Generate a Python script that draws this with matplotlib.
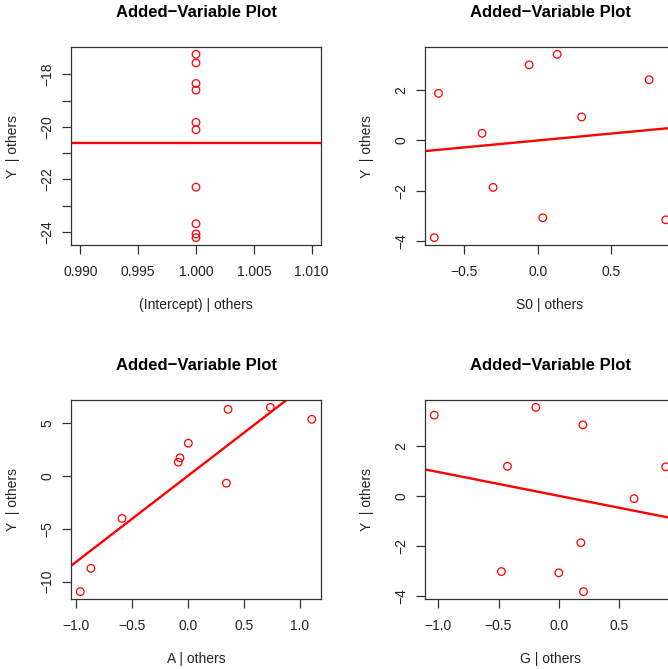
import numpy as np
import matplotlib
matplotlib.use('Agg')
import matplotlib.pyplot as plt

plt.rcParams['font.family'] = ['Liberation Sans', 'DejaVu Sans']

title = 'Added\u2212Variable Plot'
ylab = 'Y  | others'

# panel 1: (Intercept) | others
int_x = [1.0] * 10
int_y = [-17.24, -17.57, -18.35, -18.60, -19.83, -20.11, -22.30, -23.69, -24.08, -24.22]

# panel 2: S0 | others
s0_x = [-0.675, -0.059, 0.132, 0.757, -0.379, 0.298, -0.304, 0.034, -0.704, 0.870]
s0_y = [1.87, 3.00, 3.42, 2.41, 0.28, 0.93, -1.87, -3.08, -3.87, -3.16]

# panel 3: A | others
a_x = [-0.963, -0.868, -0.590, -0.087, -0.072, 0.003, 0.343, 0.358, 0.736, 1.106]
a_y = [-10.95, -8.75, -4.03, 1.29, 1.70, 3.08, -0.70, 6.29, 6.47, 5.34]

# panel 4: G | others
g_x = [-1.033, -0.191, 0.200, -0.426, 0.887, 0.624, 0.183, -0.476, 0.000, 0.205]
g_y = [3.22, 3.53, 2.83, 1.18, 1.16, -0.11, -1.87, -3.02, -3.07, -3.82]

# (xlabel, x, y, xticks, x decimals, yticks, labelled yticks)
panels = [
    ('(Intercept) | others', int_x, int_y, [0.990, 0.995, 1.000, 1.005, 1.010], 3,
     list(range(-24, -17)), [-24, -22, -20, -18]),
    ('S0 | others', s0_x, s0_y, [-0.5, 0.0, 0.5], 1, [-4, -2, 0, 2], [-4, -2, 0, 2]),
    ('A | others', a_x, a_y, [-1.0, -0.5, 0.0, 0.5, 1.0], 1, [-10, -5, 0, 5], [-10, -5, 0, 5]),
    ('G | others', g_x, g_y, [-1.0, -0.5, 0.0, 0.5], 1, [-4, -2, 0, 2], [-4, -2, 0, 2]),
]

W, H = 668, 669
fig = plt.figure(figsize=(W / 100, H / 100), dpi=100)

# axes boxes in pixels: left, top, width, height
boxes = [(71, 47, 250, 198), (425, 47, 250, 198),
         (71, 400, 250, 199), (425, 400, 250, 199)]


def rlim(v):
    lo, hi = min(v), max(v)
    if hi == lo:
        lo, hi = lo - 0.01 * abs(lo), hi + 0.01 * abs(hi)
    d = (hi - lo) * 0.04
    return lo - d, hi + d


def fmt(v, nd):
    return ('%.*f' % (nd, v)).replace('-', '\u2212')


for (xlabel, x, y, xt, nd, yt, ylabs), (l, t, w, h) in zip(panels, boxes):
    ax = fig.add_axes([l / W, 1 - (t + h) / H, w / W, h / H])
    x = np.array(x)
    y = np.array(y)
    ax.set_xlim(rlim(x))
    ax.set_ylim(rlim(y))
    ax.scatter(x, y, s=30, facecolors='none', edgecolors='red', linewidths=0.9, zorder=3)

    # least-squares line (horizontal at the mean when x is constant)
    if np.ptp(x) == 0:
        ax.axhline(y.mean(), color='red', lw=1.7)
    else:
        b, a = np.polyfit(x, y, 1)
        ax.axline((0, a), slope=b, color='red', lw=1.7)

    ax.set_xticks(xt)
    ax.set_xticklabels([fmt(v, nd) for v in xt])
    ax.set_yticks(yt)
    ax.set_yticklabels([fmt(v, 0) if v in ylabs else '' for v in yt], rotation=90, va='center')
    ax.tick_params(length=6.5, width=0.9, color='#333333', labelsize=10, labelcolor='#222222')
    ax.tick_params(axis='x', pad=8.0)
    ax.tick_params(axis='y', pad=5.4)
    for sp in ax.spines.values():
        sp.set_linewidth(0.9)
        sp.set_color('#333333')

    ax.text(0.5, 1 + 34 / h, title, transform=ax.transAxes, ha='center', va='center',
            fontsize=12, fontweight='bold')
    ax.set_xlabel(xlabel, fontsize=10, va='center', color='#222222')
    ax.xaxis.set_label_coords(0.5, -60 / h)
    ax.set_ylabel(ylab, fontsize=10, va='center', color='#222222')
    ax.yaxis.set_label_coords(-57.7 / w, 0.5)

fig.savefig('out.png', dpi=100)
